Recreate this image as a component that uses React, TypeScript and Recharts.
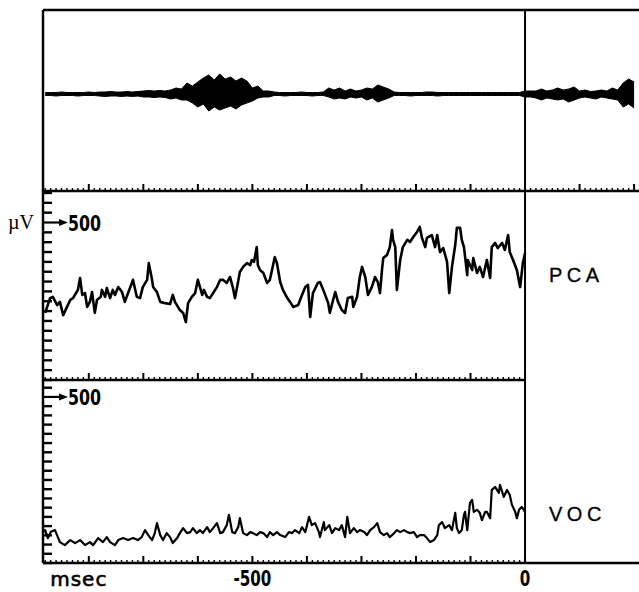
import {
  Area,
  ComposedChart,
  Line,
  LineChart,
  ReferenceLine,
  XAxis,
  YAxis,
} from "recharts";

const X_DOMAIN: [number, number] = [-884, 209];

// audio trace, 10 ms bins starting at -880 ms: envelope above / below the baseline
const waveStartMs = -880;
const waveUp = [
  1.5, 1.5, 1.5, 2, 1.5, 1.5, 1.5, 1.5, 2, 1.5,
  2, 2, 2.5, 2, 2, 2.5, 2, 2.5,
  3, 3.5, 3, 3.5, 3,
  4, 6, 5,
  11, 8,
  12, 16,
  19, 14, 20, 15,
  17, 13, 16,
  13,
  6, 8,
  3, 3,
  2, 1.5, 1.5, 1.5, 1.5, 2, 1.5, 1.5, 1.5, 2,
  6, 4,
  6, 3,
  5, 3, 4,
  6, 5,
  9, 7,
  5,
  2, 1.5, 1.5, 1.5, 1.5, 1.5, 2, 2, 1.5, 1.5, 1.5, 1.5,
  1.5, 1.5, 1.5, 1.5, 1.5, 1.5, 1.5, 1.5, 1.5, 1.5, 1.5, 1.5,
  3, 3,
  3, 5, 3, 4,
  6, 4, 5, 7,
  3, 4, 2.5, 3, 4, 3,
  6, 4,
  11, 15, 12,
];
const waveDown = [
  1.5, 1.5, 2, 1.5, 1.5, 1.5, 2, 1.5, 1.5, 1.5,
  2, 2.5, 2, 2, 2.5, 2, 2.5, 2,
  3, 3, 3.5, 3, 3.5,
  5, 4, 6,
  6, 9,
  13, 10,
  17, 13, 16, 14,
  12, 15, 11,
  9,
  7, 4,
  3, 3,
  1.5, 1.5, 2, 1.5, 1.5, 1.5, 1.5, 2, 1.5, 1.5,
  3, 5,
  4, 5,
  3, 4, 3,
  6, 4,
  8, 6,
  4,
  1.5, 1.5, 1.5, 2, 1.5, 1.5, 1.5, 1.5, 2, 1.5, 1.5, 1.5,
  1.5, 1.5, 1.5, 1.5, 1.5, 1.5, 1.5, 1.5, 1.5, 1.5, 1.5, 1.5,
  3, 3,
  4, 6, 4, 5,
  6, 5, 8, 6,
  4, 3, 4, 5, 3, 4,
  5, 6,
  13, 10, 14,
];

// [ms, µV]
const pcaTrace: [number, number][] = [
  [-880, 213], [-871, 260], [-866, 264], [-858, 238], [-853, 248], [-847, 206],
  [-840, 232], [-834, 254], [-829, 260], [-820, 286], [-816, 324], [-812, 270],
  [-807, 276], [-803, 232], [-798, 248], [-794, 279], [-789, 213], [-785, 254],
  [-778, 264], [-776, 286], [-770, 264], [-767, 292], [-761, 260], [-756, 286],
  [-752, 270], [-746, 295], [-739, 279], [-734, 248], [-728, 276], [-721, 308],
  [-719, 318], [-712, 264], [-706, 260], [-701, 295], [-693, 318], [-690, 371],
  [-684, 318], [-682, 295], [-675, 279], [-669, 248], [-660, 244], [-651, 241],
  [-646, 270], [-642, 248], [-633, 222], [-627, 213], [-622, 184], [-618, 244],
  [-611, 264], [-605, 276], [-600, 318], [-592, 270], [-589, 286], [-583, 264],
  [-578, 260], [-572, 276], [-565, 295], [-559, 318], [-554, 318], [-547, 308],
  [-541, 327], [-536, 295], [-532, 260], [-528, 295], [-523, 343], [-517, 359],
  [-510, 371], [-504, 365], [-501, 381], [-497, 375], [-492, 422], [-490, 365],
  [-486, 349], [-480, 340], [-473, 308], [-468, 318], [-464, 349], [-459, 390],
  [-455, 371], [-449, 311], [-444, 286], [-436, 260], [-431, 248], [-425, 232],
  [-416, 238], [-409, 270], [-403, 295], [-398, 302], [-394, 200], [-389, 276],
  [-380, 308], [-376, 311], [-370, 286], [-361, 244], [-358, 213], [-352, 254],
  [-348, 279], [-343, 248], [-336, 222], [-330, 213], [-325, 260], [-317, 264],
  [-315, 232], [-308, 264], [-303, 327], [-299, 359], [-293, 327], [-288, 270],
  [-281, 295], [-275, 327], [-270, 311], [-266, 276], [-262, 356], [-260, 387],
  [-253, 397], [-248, 422], [-244, 476], [-242, 445], [-238, 422], [-235, 286],
  [-229, 381], [-224, 422], [-216, 445], [-211, 438], [-205, 454], [-198, 470],
  [-193, 486], [-189, 451], [-183, 422], [-180, 451], [-171, 460], [-165, 422],
  [-161, 460], [-156, 406], [-150, 419], [-143, 375], [-139, 276], [-134, 359],
  [-128, 429], [-125, 483], [-119, 483], [-116, 445], [-112, 422], [-106, 333],
  [-105, 381], [-97, 349], [-95, 387], [-88, 340], [-83, 359], [-77, 327],
  [-70, 381], [-64, 324], [-61, 422], [-55, 435], [-50, 419], [-42, 435],
  [-37, 413], [-31, 460], [-28, 406], [-22, 381], [-15, 349], [-9, 295],
  [-4, 371], [0, 403],
];

const vocTrace: [number, number][] = [
  [-884, 93], [-880, 99], [-875, 75], [-870, 93], [-862, 99], [-853, 63],
  [-844, 54], [-834, 69], [-825, 60], [-816, 69], [-807, 54], [-798, 63],
  [-792, 54], [-783, 75], [-774, 63], [-767, 78], [-761, 63], [-752, 54],
  [-746, 69], [-737, 75], [-728, 69], [-719, 75], [-710, 69], [-703, 78],
  [-697, 99], [-691, 84], [-684, 69], [-679, 90], [-675, 120], [-669, 84],
  [-664, 69], [-657, 90], [-651, 78], [-646, 60], [-638, 75], [-633, 90],
  [-627, 105], [-620, 90], [-614, 93], [-609, 105], [-602, 90], [-596, 99],
  [-591, 90], [-583, 108], [-578, 93], [-572, 105], [-565, 120], [-559, 90],
  [-554, 93], [-547, 114], [-543, 145], [-537, 93], [-532, 90], [-526, 108],
  [-523, 135], [-517, 90], [-510, 84], [-504, 93], [-499, 90], [-492, 84],
  [-486, 93], [-480, 90], [-473, 78], [-468, 93], [-462, 84], [-455, 93],
  [-449, 84], [-440, 78], [-433, 93], [-427, 90], [-422, 99], [-414, 90],
  [-409, 108], [-403, 93], [-396, 139], [-391, 114], [-385, 120], [-378, 93],
  [-376, 78], [-369, 123], [-367, 99], [-359, 114], [-354, 90], [-348, 105],
  [-341, 99], [-336, 114], [-330, 78], [-326, 139], [-321, 90], [-314, 105],
  [-308, 93], [-303, 99], [-295, 93], [-290, 84], [-284, 99], [-277, 108],
  [-271, 120], [-266, 93], [-259, 84], [-253, 90], [-248, 78], [-240, 90],
  [-235, 99], [-229, 93], [-222, 99], [-216, 93], [-211, 90], [-204, 93],
  [-198, 78], [-193, 84], [-185, 84], [-180, 75], [-174, 63], [-167, 69],
  [-161, 84], [-158, 114], [-152, 123], [-147, 105], [-139, 114], [-134, 99],
  [-128, 151], [-125, 105], [-121, 90], [-116, 99], [-112, 145], [-110, 154],
  [-106, 99], [-101, 181], [-97, 190], [-94, 154], [-88, 160], [-83, 151],
  [-79, 129], [-73, 154], [-70, 154], [-64, 135], [-61, 220], [-55, 229],
  [-48, 211], [-46, 235], [-39, 199], [-33, 220], [-28, 205], [-24, 175],
  [-18, 154], [-15, 135], [-11, 160], [-6, 169], [0, 154],
];

const tickLabels = [
  { t: -880, text: "msec" },
  { t: -500, text: "-500" },
  { t: 0, text: "0" },
];
const scaleMarkUv = 500;

const waveData = waveUp.map((up, i) => ({
  t: waveStartMs + i * 10,
  range: [-waveDown[i], up],
}));
const pcaData = pcaTrace.map(([t, v]) => ({ t, v }));
const vocData = vocTrace.map(([t, v]) => ({ t, v }));

const msTicksFull = Array.from({ length: 109 }, (_, i) => -880 + i * 10);
const msTicksPre = msTicksFull.filter((t) => t <= 0);
const pcaTicks = Array.from({ length: 20 }, (_, i) => (i * scaleMarkUv) / 16);
const vocTicks = Array.from({ length: 20 }, (_, i) => (i * scaleMarkUv) / 18);

const NUM_FONT = "'Liberation Sans Narrow', 'DejaVu Sans Condensed', sans-serif";
const INK = "#000";

// tall, narrow bold digits as in the printed figure
function NumText({ x, y, anchor, size = 22, children }: any) {
  return (
    <text
      transform={`translate(${x},${y}) scale(0.8,1)`}
      textAnchor={anchor}
      fontFamily={NUM_FONT}
      fontWeight="bold"
      fontSize={size}
      fill={INK}
    >
      {children}
    </text>
  );
}

function MsTick(props: any) {
  const { x, y, payload, withLabels } = props;
  const v = payload.value;
  const major = Math.round(v) % 100 === 0;
  const lab = withLabels ? tickLabels.find((l) => l.t === v) : undefined;
  return (
    <g>
      <line
        x1={x}
        x2={x}
        y1={y}
        y2={y - (major ? 7 : 3)}
        stroke={INK}
        strokeWidth={major ? 2 : 1.4}
      />
      {lab && lab.text === "msec" && (
        <text
          x={x + 5}
          y={y + 23}
          fontFamily="'DejaVu Sans', sans-serif"
          fontSize={20}
          letterSpacing={1}
          stroke={INK}
          strokeWidth={0.6}
          fill={INK}
        >
          {lab.text}
        </text>
      )}
      {lab && lab.text !== "msec" && (
        <NumText x={x} y={y + 23} anchor="middle" size={21}>
          {lab.text}
        </NumText>
      )}
    </g>
  );
}

function UvTick(props: any) {
  const { x, y, payload, showUnit } = props;
  const v = payload.value;
  if (Math.abs(v - scaleMarkUv) < 0.01) {
    return (
      <g>
        <line x1={x} x2={x + 18} y1={y} y2={y} stroke={INK} strokeWidth={2.2} />
        <polygon points={`${x + 25},${y} ${x + 16},${y - 3.5} ${x + 16},${y + 3.5}`} fill={INK} />
        <NumText x={x + 25} y={y + 8} anchor="start">
          {scaleMarkUv}
        </NumText>
        {showUnit && (
          <text x={x - 9} y={y + 6} textAnchor="end" fontFamily="'Liberation Serif', serif" fontSize={20} fill={INK}>
            µV
          </text>
        )}
      </g>
    );
  }
  return <line x1={x} x2={x + 9} y1={y} y2={y} stroke={INK} strokeWidth={2.4} />;
}

function SideLabel(props: any) {
  const { viewBox, text, baseline } = props;
  if (!viewBox) return null;
  return (
    <text
      x={viewBox.x + 24}
      y={viewBox.y + baseline}
      fontFamily="'Liberation Sans', sans-serif"
      fontSize={20}
      letterSpacing={4.5}
      stroke={INK}
      strokeWidth={0.3}
      fill={INK}
    >
      {text}
    </text>
  );
}

const W = 639;

export default function App() {
  return (
    <div style={{ position: "absolute", left: 0, top: 0, width: W, height: 592, background: "#fff" }}>
      {/* audio */}
      <div style={{ position: "absolute", left: 0, top: 0 }}>
        <ComposedChart width={W} height={200} data={waveData} margin={{ top: 10, right: 0, bottom: 9, left: 43 }}>
          <XAxis
            type="number"
            dataKey="t"
            domain={X_DOMAIN}
            allowDataOverflow
            ticks={msTicksFull}
            interval={0}
            mirror
            tickSize={0}
            tickMargin={0}
            tickLine={false}
            tick={(p: any) => <MsTick {...p} />}
            axisLine={{ stroke: INK, strokeWidth: 2.5 }}
          />
          <YAxis
            type="number"
            domain={[-97, 84]}
            allowDataOverflow
            mirror
            tick={false}
            tickLine={false}
            axisLine={{ stroke: INK, strokeWidth: 2.5 }}
          />
          <ReferenceLine y={84} stroke={INK} strokeWidth={2.5} />
          <Area
            type="linear"
            dataKey="range"
            stroke={INK}
            strokeWidth={1}
            fill={INK}
            fillOpacity={1}
            isAnimationActive={false}
          />
          <ReferenceLine x={0} stroke={INK} strokeWidth={2} />
        </ComposedChart>
      </div>

      {/* PCA */}
      <div style={{ position: "absolute", left: 0, top: 181 }}>
        <LineChart width={W} height={209} data={pcaData} margin={{ top: 10, right: 0, bottom: 10, left: 43 }}>
          <XAxis
            type="number"
            dataKey="t"
            domain={X_DOMAIN}
            allowDataOverflow
            ticks={msTicksPre}
            interval={0}
            mirror
            tickSize={0}
            tickMargin={0}
            tickLine={false}
            tick={(p: any) => <MsTick {...p} />}
            axisLine={false}
          />
          <YAxis
            type="number"
            domain={[0, 600]}
            allowDataOverflow
            ticks={pcaTicks}
            interval={0}
            mirror
            tickSize={0}
            tickMargin={0}
            tickLine={false}
            tick={(p: any) => <UvTick {...p} showUnit />}
            axisLine={{ stroke: INK, strokeWidth: 2.5 }}
          />
          <ReferenceLine
            segment={[{ x: X_DOMAIN[0], y: 0 }, { x: 0, y: 0 }]}
            stroke={INK}
            strokeWidth={2.5}
          />
          <Line
            type="linear"
            dataKey="v"
            stroke={INK}
            strokeWidth={2.6}
            strokeLinejoin="round"
            dot={false}
            isAnimationActive={false}
          />
          <ReferenceLine
            x={0}
            stroke={INK}
            strokeWidth={2}
            label={<SideLabel text="PCA" baseline={91} />}
          />
        </LineChart>
      </div>

      {/* VOC */}
      <div style={{ position: "absolute", left: 0, top: 370 }}>
        <LineChart width={W} height={222} data={vocData} margin={{ top: 10, right: 0, bottom: 29, left: 43 }}>
          <XAxis
            type="number"
            dataKey="t"
            domain={X_DOMAIN}
            allowDataOverflow
            ticks={msTicksPre}
            interval={0}
            mirror
            tickSize={0}
            tickMargin={0}
            tickLine={false}
            tick={(p: any) => <MsTick {...p} withLabels />}
            axisLine={{ stroke: INK, strokeWidth: 2.5 }}
          />
          <YAxis
            type="number"
            domain={[0, 551]}
            allowDataOverflow
            ticks={vocTicks}
            interval={0}
            mirror
            tickSize={0}
            tickMargin={0}
            tickLine={false}
            tick={(p: any) => <UvTick {...p} />}
            axisLine={{ stroke: INK, strokeWidth: 2.5 }}
          />
          <Line
            type="linear"
            dataKey="v"
            stroke={INK}
            strokeWidth={2.2}
            strokeLinejoin="round"
            dot={false}
            isAnimationActive={false}
          />
          <ReferenceLine
            x={0}
            stroke={INK}
            strokeWidth={2}
            label={<SideLabel text="VOC" baseline={141} />}
          />
        </LineChart>
      </div>
    </div>
  );
}
